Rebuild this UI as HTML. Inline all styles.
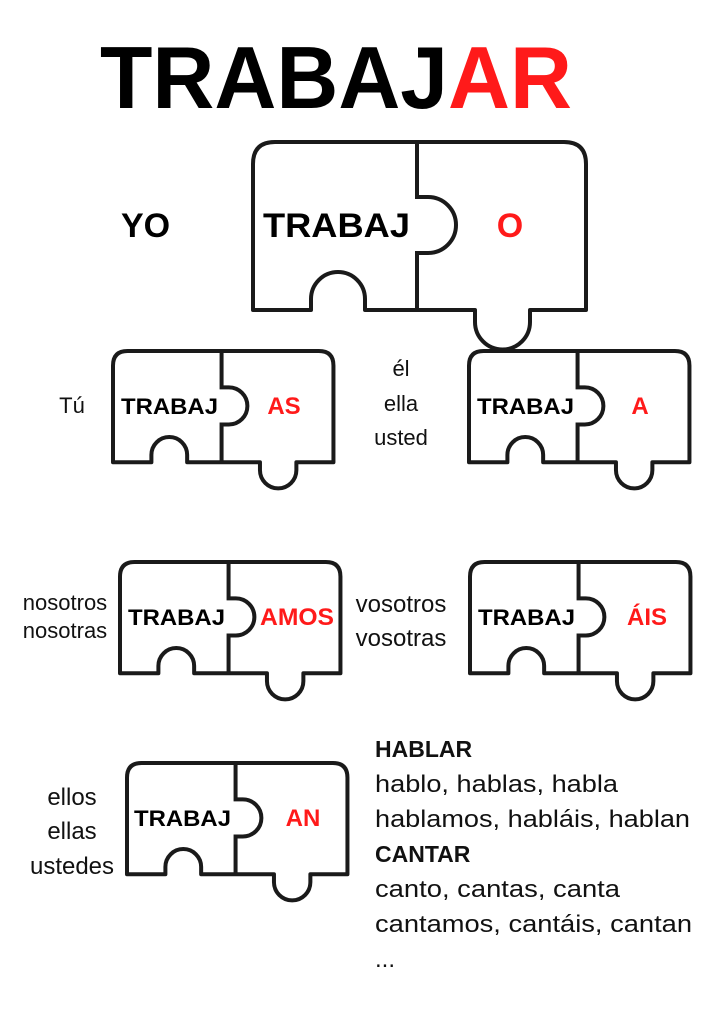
<!DOCTYPE html>
<html><head><meta charset="utf-8"><style>
html,body{margin:0;padding:0;background:#fff}
svg{display:block}
text{font-family:"Liberation Sans",Arial,sans-serif}
.b{font-weight:bold}
.r{fill:#ff1a1a}
</style></head><body>
<svg width="724" height="1024" viewBox="0 0 724 1024" xmlns="http://www.w3.org/2000/svg">
<defs>
<g id="pz">
<path d="M0,168 L0,22 Q0,0 22,0 L311,0 Q333,0 333,22 L333,168 L277,168 L277,180 A27.5,27.5 0 0 1 222,180 L222,168 L112,168 L112,157 A27,27 0 0 0 58,157 L58,168 Z" fill="none" stroke="#1a1a1a" stroke-width="4" vector-effect="non-scaling-stroke" stroke-linejoin="round"/>
<path d="M164,0 L164,55 L175,55 A28,28 0 0 1 175,111 L164,111 L164,168" fill="none" stroke="#1a1a1a" stroke-width="4" vector-effect="non-scaling-stroke"/>
</g>
</defs>
<text x="100" y="108" class="b" font-size="88" textLength="472" lengthAdjust="spacingAndGlyphs">TRABAJ<tspan class="r">AR</tspan></text>

<use href="#pz" transform="translate(253,142)"/>
<use href="#pz" transform="translate(113,351) scale(0.662)"/>
<use href="#pz" transform="translate(469,351) scale(0.662)"/>
<use href="#pz" transform="translate(120,562) scale(0.662)"/>
<use href="#pz" transform="translate(470,562) scale(0.662)"/>
<use href="#pz" transform="translate(127,763) scale(0.662)"/>

<text x="121" y="237" class="b" font-size="34">YO</text>
<text x="263" y="237" class="b" font-size="34" textLength="147" lengthAdjust="spacingAndGlyphs">TRABAJ</text>
<text x="510" y="237" class="b r" font-size="34" text-anchor="middle">O</text>

<g class="b" font-size="22">
<text x="121" y="414" textLength="97" lengthAdjust="spacingAndGlyphs">TRABAJ</text>
<text x="284" y="414" class="r" text-anchor="middle" font-size="24">AS</text>
<text x="477" y="414" textLength="97" lengthAdjust="spacingAndGlyphs">TRABAJ</text>
<text x="640" y="414" class="r" text-anchor="middle" font-size="24">A</text>
<text x="128" y="625" textLength="97" lengthAdjust="spacingAndGlyphs">TRABAJ</text>
<text x="297" y="625" class="r" text-anchor="middle" textLength="74" lengthAdjust="spacingAndGlyphs" font-size="24">AMOS</text>
<text x="478" y="625" textLength="97" lengthAdjust="spacingAndGlyphs">TRABAJ</text>
<text x="647" y="625" class="r" text-anchor="middle" font-size="24">ÁIS</text>
<text x="134" y="826" textLength="97" lengthAdjust="spacingAndGlyphs">TRABAJ</text>
<text x="303" y="826" class="r" text-anchor="middle" font-size="24">AN</text>
</g>

<g font-size="22" fill="#111">
<text x="72" y="413" text-anchor="middle">Tú</text>
<text x="401" y="376" text-anchor="middle">él</text>
<text x="401" y="411" text-anchor="middle">ella</text>
<text x="401" y="445" text-anchor="middle">usted</text>
<text x="65" y="610" text-anchor="middle" font-size="22">nosotros</text>
<text x="65" y="638" text-anchor="middle" font-size="22">nosotras</text>
<text x="401" y="612" text-anchor="middle" font-size="24">vosotros</text>
<text x="401" y="646" text-anchor="middle" font-size="24">vosotras</text>
<text x="72" y="805" text-anchor="middle" font-size="24">ellos</text>
<text x="72" y="839" text-anchor="middle" font-size="24">ellas</text>
<text x="72" y="874" text-anchor="middle" font-size="24">ustedes</text>
</g>

<g font-size="24" fill="#111">
<text x="375" y="757" class="b" font-size="23">HABLAR</text>
<text x="375" y="792" textLength="243" lengthAdjust="spacingAndGlyphs">hablo, hablas, habla</text>
<text x="375" y="827" textLength="315" lengthAdjust="spacingAndGlyphs">hablamos, habláis, hablan</text>
<text x="375" y="862" class="b" font-size="23">CANTAR</text>
<text x="375" y="897" textLength="245" lengthAdjust="spacingAndGlyphs">canto, cantas, canta</text>
<text x="375" y="932" textLength="317" lengthAdjust="spacingAndGlyphs">cantamos, cantáis, cantan</text>
<text x="375" y="967">...</text>
</g>
</svg>
</body></html>
